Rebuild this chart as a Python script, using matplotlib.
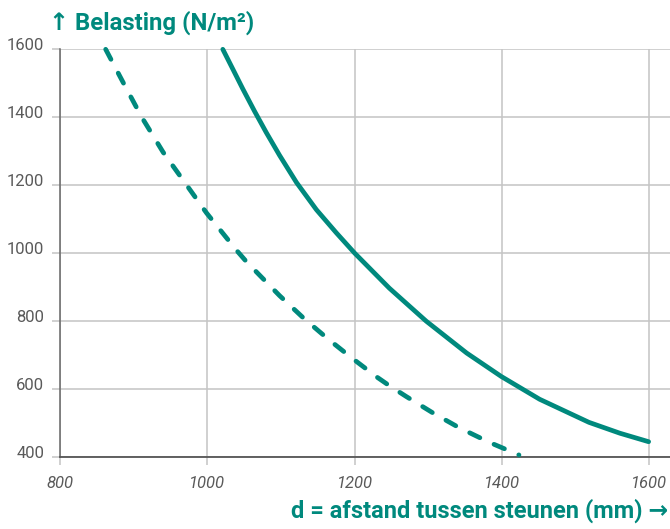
import numpy as np
import matplotlib.pyplot as plt
import matplotlib.transforms as mtransforms

# values
solid_d = [1021, 1035, 1048, 1064, 1080, 1098, 1121, 1148, 1175, 1200, 1247, 1297,
           1352, 1399, 1451, 1518, 1560, 1599]
solid_load = [1600, 1540, 1484, 1418, 1355, 1288, 1208, 1128, 1060, 1000, 897, 800,
              706, 637, 570, 502, 470, 445]

dashed_d = [862, 887, 911, 940, 972, 999, 1039, 1053, 1098, 1131, 1164, 1197,
            1231, 1247, 1270, 1306, 1342, 1383, 1423]
dashed_load = [1600, 1497, 1400, 1297, 1200, 1118, 1010, 975, 875, 808, 747, 690,
               634, 610, 578, 530, 486, 443, 406]

x_ticks = [800, 1000, 1200, 1400, 1600]
y_ticks = [400, 600, 800, 1000, 1200, 1400, 1600]

teal = '#00897d'
grid_col = '#c4c4c4'
text_col = '#5a5a5a'
fonts = ['Roboto', 'DejaVu Sans']

fig = plt.figure(figsize=(6.7, 5.29), dpi=100)
ax = fig.add_axes([60 / 670, 1 - 457 / 529, 1 - 60 / 670, (457 - 49.3) / 529])

ax.plot(solid_d, solid_load, color=teal, lw=3.4, solid_capstyle='round', solid_joinstyle='round',
        clip_on=False, zorder=3)
ax.plot(dashed_d, dashed_load, color=teal, lw=3.4, dashes=(2.4, 3.3), dash_capstyle='round',
        clip_on=False, zorder=3)

ax.set_xlim(800, 1628)
ax.set_ylim(400, 1600)
ax.set_xticks(x_ticks)
ax.set_yticks(y_ticks)
ax.grid(True, color=grid_col, lw=1.1)
ax.set_axisbelow(True)

for s in ['top', 'right']:
    ax.spines[s].set_visible(False)
ax.spines['left'].set_color('#666666')
ax.spines['bottom'].set_color('#555555')
ax.spines['left'].set_linewidth(1.1)
ax.spines['bottom'].set_linewidth(1.3)

ax.tick_params(axis='both', length=5.8, width=1.1, color=grid_col, labelcolor=text_col, labelsize=12)
ax.tick_params(axis='y', pad=5.5)
ax.tick_params(axis='x', pad=8)

for lab in ax.get_yticklabels():
    lab.set_family(fonts)
    lab.set_transform(lab.get_transform() + mtransforms.ScaledTranslation(0, 5.5 / 100, fig.dpi_scale_trans))
for lab in ax.get_xticklabels():
    lab.set_family(fonts)
    lab.set_style('italic')

fig.text(49 / 670, 1 - 30 / 529, '↑ Belasting (N/m²)', color=teal, fontsize=17.2, fontweight='bold',
         family=fonts, ha='left', va='baseline')
fig.text(668 / 670, 1 - 518 / 529, 'd = afstand tussen steunen (mm) →', color=teal, fontsize=17,
         fontweight='bold', family=fonts, ha='right', va='baseline')

fig.savefig('out.png', dpi=100)
